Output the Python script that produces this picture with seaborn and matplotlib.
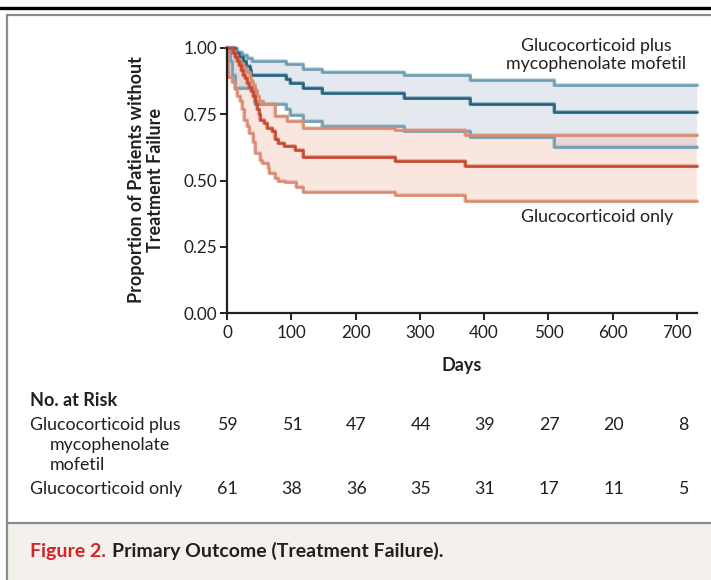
import numpy as np
import pandas as pd
import matplotlib
matplotlib.use("Agg")
import matplotlib.pyplot as plt
import matplotlib.transforms as mtransforms
import matplotlib.patheffects as pe
from matplotlib.patches import Rectangle
from matplotlib.lines import Line2D
import seaborn as sns

# ---------------- data ----------------
x_ticks = [0, 100, 200, 300, 400, 500, 600, 700]
y_ticks = [0.00, 0.25, 0.50, 0.75, 1.00]
end_day = 731

mmf_days = [0, 12, 19, 25, 30, 35, 38, 92, 98, 118, 147, 275, 378, 508]
mmf_surv = [1.0, 0.983, 0.966, 0.95, 0.933, 0.916, 0.90, 0.883, 0.867, 0.85, 0.832, 0.813, 0.79, 0.76]
mmf_upper_days = [0, 15, 24, 31, 39, 92, 118, 147, 275, 378, 508]
mmf_upper = [1.0, 0.986, 0.974, 0.961, 0.952, 0.94, 0.922, 0.91, 0.897, 0.88, 0.862]
mmf_lower_days = [0, 5, 8, 12, 44, 92, 98, 118, 147, 275, 378, 508]
mmf_lower = [1.0, 0.95, 0.90, 0.85, 0.79, 0.768, 0.748, 0.725, 0.706, 0.687, 0.664, 0.625]

gc_days = [0, 10, 13, 16, 19, 22, 25, 28, 31, 34, 38, 41, 43, 45, 47, 49, 51, 57, 62, 70, 75, 80, 88, 106, 118, 261, 370]
gc_surv = [1.0, .983, .967, .95, .934, .918, .90, .885, .868, .852, .836, .82, .80, .787, .77, .75, .73,
           .717, .70, .685, .655, .64, .63, .615, .59, .574, .555]
gc_upper_days = [0, 9, 12, 16, 20, 25, 30, 35, 38, 41, 44, 46, 50, 56, 75, 93, 118, 261, 370]
gc_upper = [1.0, .99, .975, .96, .945, .93, .91, .89, .875, .86, .84, .82, .80, .79, .745, .725, .70, .69, .67]
gc_lower_days = [0, 2, 8, 12, 16, 20, 23, 26, 31, 34, 40, 44, 51, 55, 63, 66, 75, 80, 90, 108, 118, 261, 370]
gc_lower = [1.0, .89, .87, .845, .82, .80, .77, .73, .705, .68, .645, .605, .578, .565, .546, .527, .51, .50,
            .496, .477, .456, .447, .423]

risk_mmf = [59, 51, 47, 44, 39, 27, 20, 8]
risk_gc = [61, 38, 36, 35, 31, 17, 11, 5]

# ---------------- style ----------------
sns.set_theme(style="white")
plt.rcParams['font.family'] = ['Lato', 'DejaVu Sans']
TXT = "#231f20"
plt.rcParams['text.color'] = TXT

FS = 12.8      # regular text
FS_T = 12.3    # tick labels
FS_B = 13.0    # bold titles

C_MMF = "#22607e"
C_MMF_CI = "#6f9db5"
C_MMF_FILL = (178/255, 194/255, 210/255)
C_GC = "#c8442b"
C_GC_CI = "#d98a70"
C_GC_FILL = (236/255, 186/255, 166/255)

W, H = 711, 580
fig = plt.figure(figsize=(W / 100, H / 100), dpi=100)


def fx(px):
    return px / W


def fy(py):
    return 1 - py / H


# frame decorations
fig.add_artist(Line2D([0, 1], [fy(8), fy(8)], transform=fig.transFigure, color="black", lw=2.4))
fig.add_artist(Rectangle((fx(7), 0), 1.2, fy(523), transform=fig.transFigure,
                         facecolor="#f4f1ec", edgecolor="none"))
fig.add_artist(Line2D([fx(7), 1], [fy(15), fy(15)], transform=fig.transFigure, color="#8c8c8c", lw=1.6))
fig.add_artist(Line2D([fx(7), 1], [fy(523), fy(523)], transform=fig.transFigure, color="#8c8c8c", lw=1.6))
fig.add_artist(Line2D([fx(7), fx(7)], [0, fy(15)], transform=fig.transFigure, color="#8c8c8c", lw=1.6))

ax = fig.add_axes([fx(227), fy(313), fx(697) - fx(227), (313 - 48) / H])
ax.set_facecolor("none")


def frame(days, vals):
    return pd.DataFrame({"day": list(days) + [end_day], "value": list(vals) + [vals[-1]]})


def step_at(days, vals, grid):
    idx = np.searchsorted(np.asarray(days), grid, side="right") - 1
    return np.asarray(vals)[idx]


def band(days_u, up, days_l, lo, color):
    grid = np.unique(np.concatenate([days_u, days_l, [end_day]]))
    u = step_at(days_u, up, grid)
    l = step_at(days_l, lo, grid)
    ax.fill_between(grid, l, u, step="post", color=color, alpha=0.35, lw=0, clip_on=False)


def draw_lines(specs):
    for d, v, c in specs:
        df = frame(d, v)
        sns.lineplot(data=df, x="day", y="value", ax=ax, drawstyle="steps-post", estimator=None,
                     sort=False, color=c, lw=1.8, clip_on=False,
                     path_effects=[pe.Stroke(linewidth=3.0, foreground=c, alpha=0.35), pe.Normal()])


# MMF band and lines
band(mmf_upper_days, mmf_upper, mmf_lower_days, mmf_lower, C_MMF_FILL)
draw_lines([(mmf_upper_days, mmf_upper, C_MMF_CI), (mmf_lower_days, mmf_lower, C_MMF_CI),
            (mmf_days, mmf_surv, C_MMF)])

# GC band and lines
band(gc_upper_days, gc_upper, gc_lower_days, gc_lower, C_GC_FILL)
draw_lines([(gc_upper_days, gc_upper, C_GC_CI), (gc_lower_days, gc_lower, C_GC_CI),
            (gc_days, gc_surv, C_GC)])

ax.set_xlim(0, end_day)
ax.set_ylim(0, 1.0)
ax.set_xticks(x_ticks)
ax.set_xticklabels([str(t) for t in x_ticks])
ax.set_yticks(y_ticks)
ax.set_yticklabels([f"{t:.2f}" for t in y_ticks])
for s in ["top", "right"]:
    ax.spines[s].set_visible(False)
for s in ["left", "bottom"]:
    ax.spines[s].set_color("#231f20")
    ax.spines[s].set_linewidth(1.6)
ax.tick_params(axis="both", direction="out", length=5, width=1.4, color="#231f20",
               labelsize=FS_T, labelcolor=TXT, left=True, bottom=True)
ax.tick_params(axis="x", pad=4)
ax.tick_params(axis="y", pad=2)
ax.set_xlabel("")
ax.set_ylabel("")

# curve labels
fig.text(fx(596), fy(55), "Glucocorticoid plus\nmycophenolate mofetil", ha="center", va="center",
         fontsize=FS, linespacing=1.15)
fig.text(fx(597), fy(217), "Glucocorticoid only", ha="center", va="center", fontsize=FS)

# axis titles
fig.text(fx(146), fy(180), "Proportion of Patients without\nTreatment Failure", rotation=90,
         ha="center", va="center", fontsize=FS_B, fontweight="bold", linespacing=1.2)
fig.text(fx(462), fy(366), "Days", ha="center", va="center", fontsize=FS_B, fontweight="bold")

# number at risk table
fig.text(fx(30), fy(400), "No. at Risk", ha="left", va="center", fontsize=FS_B, fontweight="bold")
fig.text(fx(30), fy(425), "Glucocorticoid plus", ha="left", va="center", fontsize=FS)
fig.text(fx(50), fy(445), "mycophenolate", ha="left", va="center", fontsize=FS)
fig.text(fx(50), fy(465), "mofetil", ha="left", va="center", fontsize=FS)
fig.text(fx(30), fy(489), "Glucocorticoid only", ha="left", va="center", fontsize=FS)

trans = mtransforms.blended_transform_factory(ax.transData, fig.transFigure)
off = mtransforms.ScaledTranslation(11 / 100, 0, fig.dpi_scale_trans)
for t, a, b in zip(x_ticks, risk_mmf, risk_gc):
    fig.text(t, fy(425), str(a), transform=trans + off, ha="right", va="center", fontsize=FS)
    fig.text(t, fy(489), str(b), transform=trans + off, ha="right", va="center", fontsize=FS)

# caption
t1 = fig.text(fx(30), fy(551), "Figure 2.", ha="left", va="center", fontsize=14,
              fontweight="bold", color="#d2232a")
fig.canvas.draw()
bb = t1.get_window_extent(renderer=fig.canvas.get_renderer())
fig.text((bb.x1 + 6) / W, fy(551), "Primary Outcome (Treatment Failure).", ha="left", va="center",
         fontsize=14, fontweight="bold", color=TXT)

fig.savefig("out.png", dpi=100)
